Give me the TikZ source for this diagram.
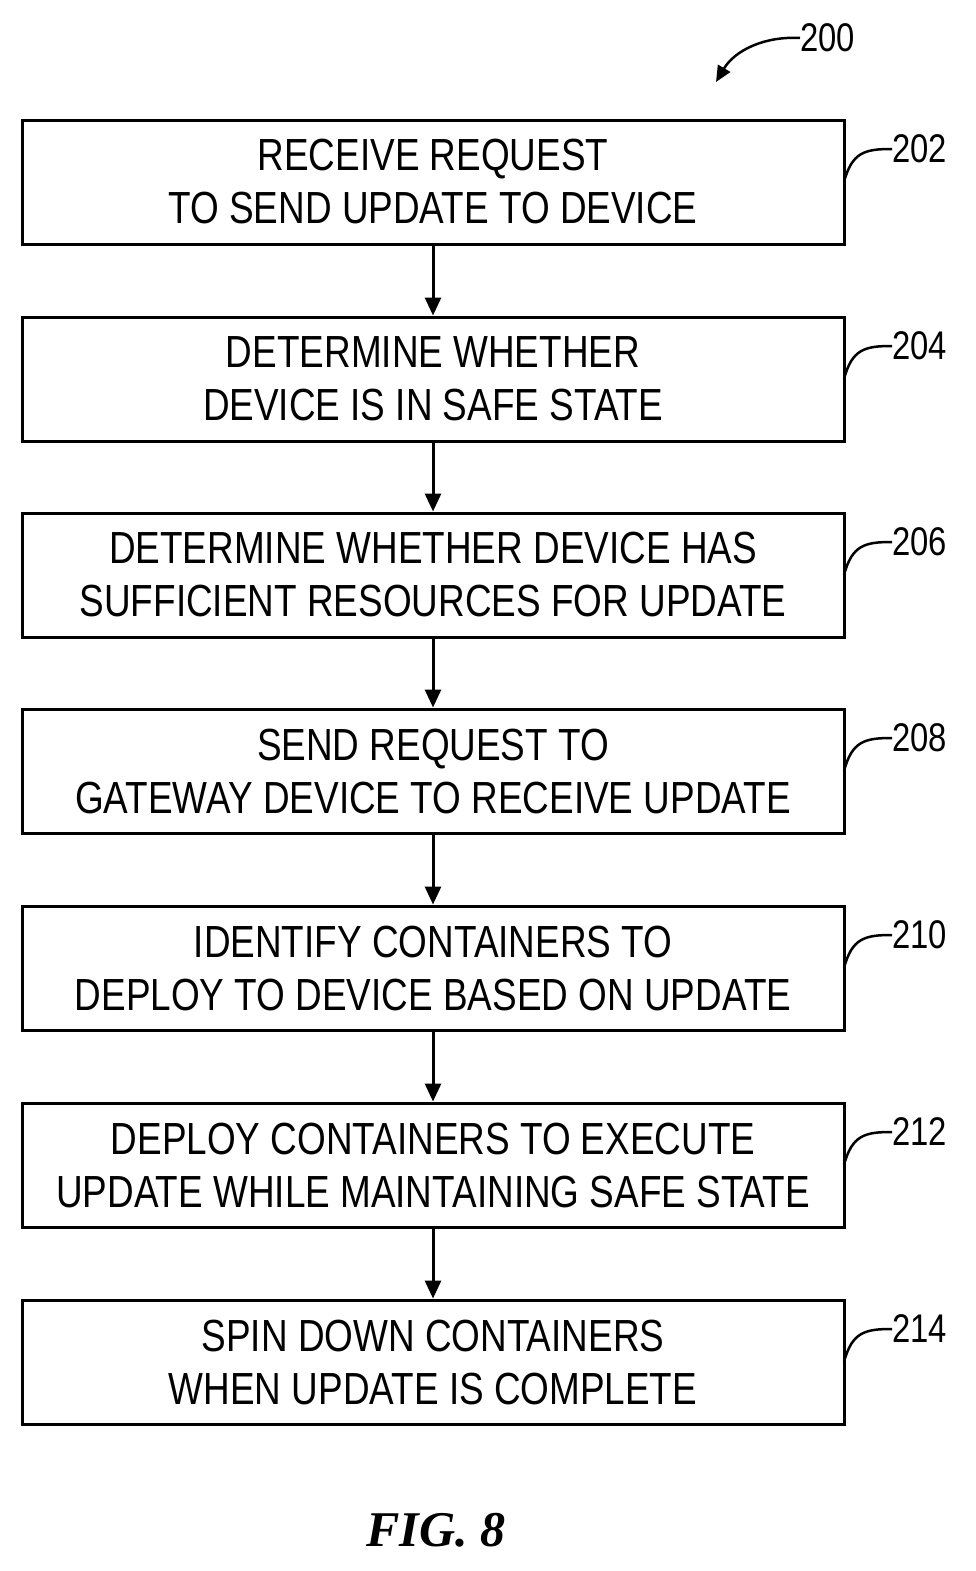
\documentclass[tikz,border=0pt]{standalone}
\usepackage{fontspec}
\setmainfont{Liberation Sans}[FakeStretch=0.82]
\newfontfamily\figfont{Liberation Serif}
\usetikzlibrary{arrows.meta}
\begin{document}
\begin{tikzpicture}[x=1pt,y=-1pt,
  box/.style={draw,line width=3pt,minimum width=822pt,minimum height=124pt,align=center,inner sep=0pt,
    font=\fontsize{45}{53}\selectfont},
  lbl/.style={font=\fontsize{40}{40}\selectfont,anchor=west,inner sep=0pt},
  lead/.style={line width=2.5pt},
  arr/.style={line width=3pt,-{Triangle[length=18pt,width=16pt]}}]
\useasboundingbox (0,0) rectangle (976,1571);
\foreach \i/\y/\t/\n in {1/182/{RECEIVE REQUEST\\TO SEND UPDATE TO DEVICE}/202,
  2/379/{DETERMINE WHETHER\\DEVICE IS IN SAFE STATE}/204,
  3/575/{DETERMINE WHETHER DEVICE HAS\\SUFFICIENT RESOURCES FOR UPDATE}/206,
  4/771/{SEND REQUEST TO\\GATEWAY DEVICE TO RECEIVE UPDATE}/208,
  5/968/{IDENTIFY CONTAINERS TO\\DEPLOY TO DEVICE BASED ON UPDATE}/210,
  6/1165/{DEPLOY CONTAINERS TO EXECUTE\\UPDATE WHILE MAINTAINING SAFE STATE}/212,
  7/1362/{SPIN DOWN CONTAINERS\\WHEN UPDATE IS COMPLETE}/214}{
  \node[box] (b\i) at (433,\y) {\t};
  \node[lbl] (l\i) at (892,\y-33) {\n};
  \coordinate (s\i) at (844,\y);
  \draw[lead] (s\i) .. controls (852,\y-30) and (865,\y-33) .. (l\i.west);
}
\foreach \a/\b in {1/2,2/3,3/4,4/5,5/6,6/7}{\draw[arr] (b\a) -- (b\b);}
\node[lbl] (l0) at (800,38) {200};
\coordinate (e0) at (716,82);
\draw[lead,-{Triangle[length=16pt,width=14pt]}] (l0.west) .. controls (765,36) and (735,50) .. (e0);
\node[font=\figfont\bfseries\itshape\fontsize{50}{50}\selectfont] (fig) at (436,1530) {FIG. 8};
\end{tikzpicture}
\end{document}
